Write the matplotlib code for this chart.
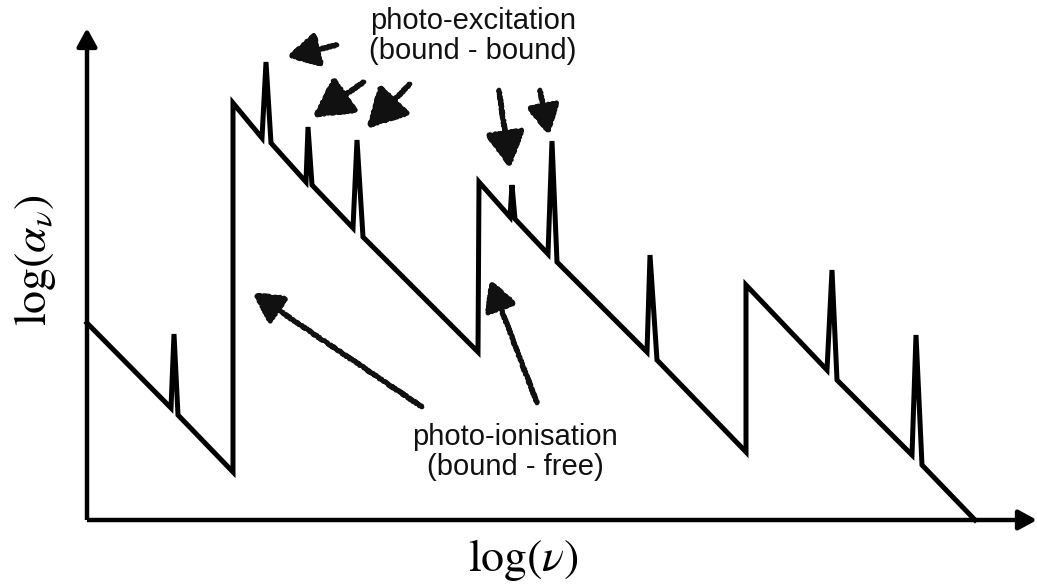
import matplotlib
matplotlib.use("Agg")
import matplotlib.pyplot as plt
from matplotlib.patches import FancyArrowPatch

# schematic absorption profile: sawtooth ionisation edges with narrow line spikes
log_nu = [0, 84, 87, 91, 146, 146, 175, 179, 184, 219, 221, 225, 266, 270, 276,
          391, 392, 423, 425, 428, 461, 465, 470, 560, 563, 570, 659, 659,
          740, 745, 750, 825, 829, 835, 888]
log_alpha = [197, 112, 186, 105, 48, 417, 382, 458, 377, 338, 393, 335, 292, 380, 283,
             168, 338, 303, 335, 301, 266, 379, 258, 168, 265, 160, 68, 235,
             150, 250, 140, 65, 185, 55, 0]

# annotation arrows (tail, tip, head size)
excitation_arrows = [((250, 475), (200, 463), 0.95), ((277, 438), (226, 403), 1.2),
                     ((323, 436), (280, 392), 1.2), ((412, 430), (423, 352), 1.1),
                     ((453, 430), (462, 385), 0.9)]
ionisation_arrows = [((335, 113), (166, 227), 0.9), ((450, 117), (403, 240), 0.9)]

excitation_label = "photo-excitation\n(bound - bound)"
ionisation_label = "photo-ionisation\n(bound - free)"

fig = plt.figure(figsize=(10.37, 5.88), dpi=100)
ax = fig.add_axes([0, 0, 1, 1])
ax.set_xlim(-87, 950)
ax.set_ylim(-68, 520)
ax.axis("off")

# coordinate axes with arrowheads
for end in [(950, 0), (0, 492)]:
    ax.add_patch(FancyArrowPatch((0, 0), end, arrowstyle="-|>,head_length=0.55,head_width=0.3",
                                 mutation_scale=20, lw=3.2, color="black",
                                 shrinkA=0, shrinkB=0, capstyle="butt"))

ax.plot(log_nu, log_alpha, color="black", lw=3.6, solid_joinstyle="miter")


def sketch_arrow(tail, tip, size):
    arr = FancyArrowPatch(tail, tip, arrowstyle=f"-|>,head_length={size},head_width={size * 0.55}",
                          mutation_scale=20, lw=3.4, color="#111111",
                          shrinkA=0, shrinkB=0)
    arr.set_sketch_params(scale=0.8, length=1.5, randomness=3.0)
    ax.add_patch(arr)


for tail, tip, size in excitation_arrows + ionisation_arrows:
    sketch_arrow(tail, tip, size)

text_font = ["Liberation Sans", "DejaVu Sans"]
ax.text(386, 484, excitation_label, ha="center", va="center", fontsize=21,
        family=text_font, color="#111111", linespacing=1.1)
ax.text(428, 68, ionisation_label, ha="center", va="center", fontsize=21,
        family=text_font, color="#111111", linespacing=1.1)

plt.rcParams["mathtext.fontset"] = "stix"
ax.text(436, -40, r"$\log(\nu)$", ha="center", va="center", fontsize=33)
ax.text(-52, 260, r"$\log(\alpha_\nu)$", ha="center", va="center", fontsize=33,
        rotation=90)

fig.savefig("out.png", dpi=100)
